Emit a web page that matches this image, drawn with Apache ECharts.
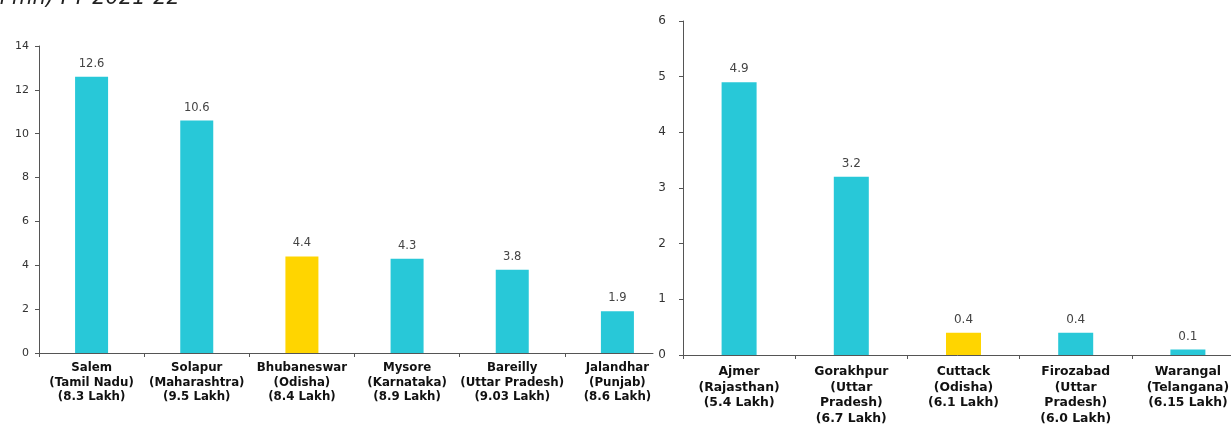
<!DOCTYPE html>
<html>
<head>
<meta charset="utf-8">
<style>
  html, body { margin: 0; padding: 0; background: #fff; }
  #chart { width: 1231px; height: 425px; }
</style>
<script src="https://cdn.jsdelivr.net/npm/echarts@6/dist/echarts.min.js"></script>
</head>
<body>
<div id="chart"></div>
<script>
// Cities with population above 5 lakh — larger group (left) and smaller group (right)
const leftCities = [
  'Salem\n(Tamil Nadu)\n(8.3 Lakh)',
  'Solapur\n(Maharashtra)\n(9.5 Lakh)',
  'Bhubaneswar\n(Odisha)\n(8.4 Lakh)',
  'Mysore\n(Karnataka)\n(8.9 Lakh)',
  'Bareilly\n(Uttar Pradesh)\n(9.03 Lakh)',
  'Jalandhar\n(Punjab)\n(8.6 Lakh)'
];
const leftValues = [12.6, 10.6, 4.4, 4.3, 3.8, 1.9];

const rightCities = [
  'Ajmer\n(Rajasthan)\n(5.4 Lakh)',
  'Gorakhpur\n(Uttar\nPradesh)\n(6.7 Lakh)',
  'Cuttack\n(Odisha)\n(6.1 Lakh)',
  'Firozabad\n(Uttar\nPradesh)\n(6.0 Lakh)',
  'Warangal\n(Telangana)\n(6.15 Lakh)'
];
const rightValues = [4.9, 3.2, 0.4, 0.4, 0.1];

const leftAxisMax = 14, leftAxisStep = 2;
const rightAxisMax = 6, rightAxisStep = 1;

const headingText = '(in mn) FY 2021-22';
const focusState = '(Odisha)';

const FONT = '"DejaVu Sans", Verdana, sans-serif';
const CYAN = '#28C8D8';
const YELLOW = '#FFD500';
const AXIS = '#555';

function barColor(cats) {
  return p => cats[p.dataIndex].indexOf(focusState) >= 0 ? YELLOW : CYAN;
}

function catAxis(gridIndex, cats, fontSize, lineHeight, margin) {
  return {
    type: 'category', gridIndex, data: cats,
    axisLine: { lineStyle: { color: AXIS, width: 1 } },
    axisTick: { show: true, length: 4, lineStyle: { color: AXIS } },
    axisLabel: {
      interval: 0, margin, color: '#111', fontFamily: FONT,
      fontWeight: 'bold', fontSize, lineHeight, align: 'center'
    }
  };
}

function valAxis(gridIndex, max, step, fontSize, extra) {
  return Object.assign({
    type: 'value', gridIndex, min: 0, max, interval: step,
    splitLine: { show: false },
    axisLine: { show: true, lineStyle: { color: AXIS, width: 1 } },
    axisTick: { show: true, length: 4, lineStyle: { color: AXIS } },
    axisLabel: { color: '#333', fontFamily: FONT, fontSize, margin: 10 }
  }, extra || {});
}

function barSeries(idx, vals, cats, width, fontSize) {
  return {
    type: 'bar', xAxisIndex: idx, yAxisIndex: idx, data: vals,
    barWidth: width,
    itemStyle: { color: barColor(cats) },
    label: {
      show: true, position: 'top', distance: 7,
      color: '#444', fontFamily: FONT, fontSize,
      formatter: p => p.value.toFixed(1)
    }
  };
}

const chart = echarts.init(document.getElementById('chart'), null, { renderer: 'canvas' });
chart.setOption({
  backgroundColor: '#fff',
  animation: false,
  graphic: [{
    type: 'text', left: -22, top: -12,
    style: { text: headingText, font: 'italic 21px ' + FONT, fill: '#222' }
  }],
  grid: [
    { left: 39, top: 46, width: 631, bottom: 72, outerBoundsMode: 'none' },
    { left: 683, top: 21, width: 561, bottom: 70, outerBoundsMode: 'none' }
  ],
  xAxis: [
    catAxis(0, leftCities, 11.8, 14.5, 8),
    catAxis(1, rightCities, 12.4, 15.7, 9)
  ],
  yAxis: [
    valAxis(0, leftAxisMax, leftAxisStep, 11),
    valAxis(1, rightAxisMax, rightAxisStep, 12, {
      z: 10,
      axisLabel: {
        color: '#333', fontFamily: FONT, fontSize: 12, margin: 12,
        backgroundColor: '#fff', padding: [2, 5, 2, 5]
      }
    })
  ],
  series: [
    barSeries(0, leftValues, leftCities, 33, 11.5),
    barSeries(1, rightValues, rightCities, 35, 12)
  ]
});
</script>
</body>
</html>
